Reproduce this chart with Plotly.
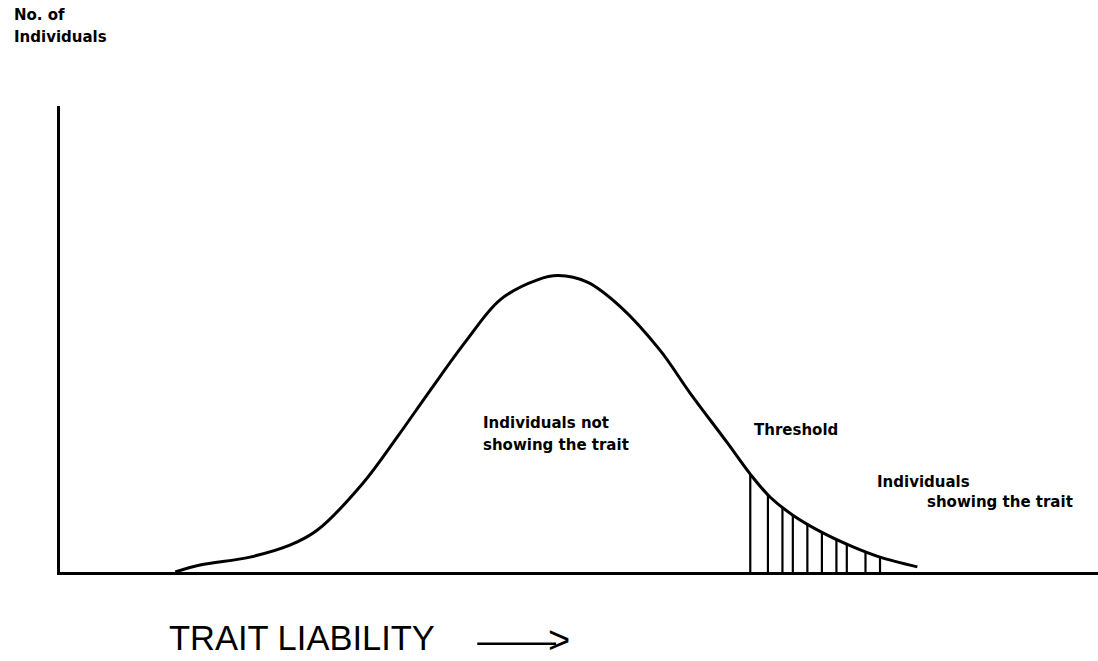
import numpy as np
import plotly.graph_objects as go

# Liability distribution curve (x = liability 0-100, y = relative count 0-100)
liability = [11.1, 13.5, 18.3, 22.2, 24.8, 29.2, 32.5, 35.7, 39.2, 42.4, 46.0, 48.0,
             50.8, 54.0, 57.8, 60.7, 64.3, 66.5, 68.4, 70.6, 73.5, 76.4, 79.0, 82.6]
individuals = [0.0, 1.5, 3.2, 5.8, 9.0, 19.1, 29.0, 39.1, 49.8, 58.4, 62.7, 63.6,
               62.2, 56.9, 47.6, 38.4, 27.7, 21.0, 16.1, 12.2, 8.4, 5.4, 3.2, 1.1]

# Hatching beyond the threshold
hatch_x = [66.5, 68.2, 69.6, 70.6, 72.0, 73.4, 74.8, 75.8, 77.6, 79.0]

hx, hy = [], []
for x in hatch_x:
    top = float(np.interp(x, liability, individuals))
    hx += [x, x, None]
    hy += [0, top, None]

fig = go.Figure()
fig.add_trace(go.Scatter(x=hx, y=hy, mode="lines",
                         line=dict(color="black", width=2.2), hoverinfo="skip"))
fig.add_trace(go.Scatter(x=liability, y=individuals, mode="lines",
                         line=dict(color="black", width=3, shape="spline", smoothing=1.0),
                         hoverinfo="skip"))

lab = dict(family="DejaVu Sans", size=15, color="black", weight="bold")

annotations = [
    dict(text="No. of", x=-0.046, y=1.195, xref="paper", yref="paper", xanchor="left", yanchor="middle", showarrow=False, font=lab),
    dict(text="Individuals", x=-0.046, y=1.148, xref="paper", yref="paper", xanchor="left", yanchor="middle", showarrow=False, font=lab),
    dict(text="Individuals not", x=40.6, y=32.0, xanchor="left", yanchor="middle", showarrow=False, font=lab),
    dict(text="showing the trait", x=40.6, y=27.3, xanchor="left", yanchor="middle", showarrow=False, font=lab),
    dict(text="Threshold", x=66.7, y=30.5, xanchor="left", yanchor="middle", showarrow=False, font=lab),
    dict(text="Individuals", x=78.5, y=19.3, xanchor="left", yanchor="middle", showarrow=False, font=lab),
    dict(text="showing the trait", x=83.3, y=15.0, xanchor="left", yanchor="middle", showarrow=False, font=lab),
    dict(text="TRAIT LIABILITY", x=0.1031, y=-0.1416, xref="paper", yref="paper", xanchor="left", yanchor="middle",
         showarrow=False, font=dict(family="Liberation Sans", size=34.5, color="black")),
    dict(text=">", x=0.4805, y=-0.145, xref="paper", yref="paper", xanchor="center", yanchor="middle",
         showarrow=False, font=dict(family="Liberation Sans", size=38, color="black")),
]

fig.update_layout(
    width=1098, height=661,
    margin=dict(l=60, r=0, t=106, b=89),
    paper_bgcolor="white", plot_bgcolor="white",
    showlegend=False,
    xaxis=dict(range=[0, 100], showgrid=False, zeroline=False, showticklabels=False, ticks="",
               showline=True, linecolor="black", linewidth=2.5, fixedrange=True),
    yaxis=dict(range=[0, 100], showgrid=False, zeroline=False, showticklabels=False, ticks="",
               showline=True, linecolor="black", linewidth=2.5, fixedrange=True),
    annotations=annotations,
    shapes=[dict(type="line", xref="paper", yref="paper", x0=0.402, x1=0.478, y0=-0.154, y1=-0.154,
                 line=dict(color="black", width=2.5))],
)

fig.write_html("out.html", config={"displayModeBar": False},
               post_script="document.body.style.margin='0';document.body.style.padding='0';"
                           "document.body.style.overflow='hidden';")
